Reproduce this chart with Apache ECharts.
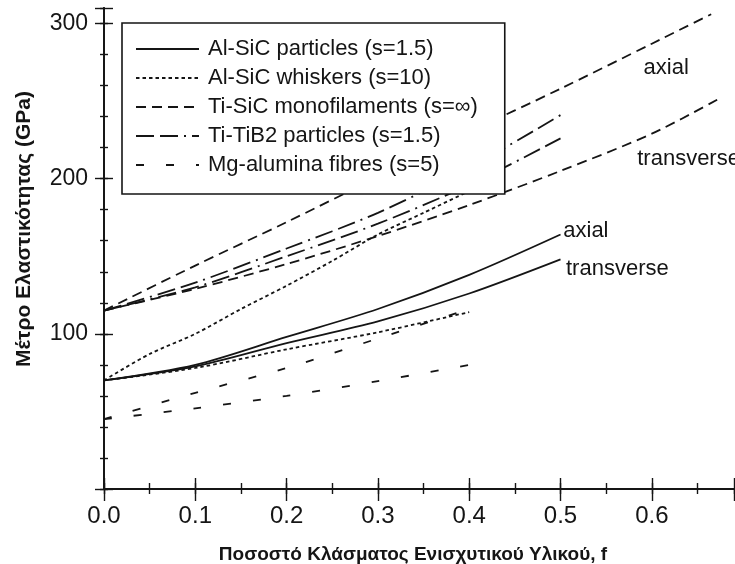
<!DOCTYPE html>
<html>
<head>
<meta charset="utf-8">
<script src="https://cdn.jsdelivr.net/npm/echarts@6/dist/echarts.min.js"></script>
<style>
html,body{margin:0;padding:0;background:#fff;}
#chart{width:735px;height:564px;}
</style>
</head>
<body>
<div id="chart"></div>
<script>
// ---- data (volume fraction f, Young's modulus E in GPa) ----
const legendNames = [
  'Al-SiC particles (s=1.5)',
  'Al-SiC whiskers (s=10)',
  'Ti-SiC monofilaments (s=\u221e)',
  'Ti-TiB2 particles (s=1.5)',
  'Mg-alumina fibres (s=5)'
];
const fAlSiCp = [0, 0.1, 0.2, 0.3, 0.4, 0.5];
const eAlSiCpAxial = [70, 80, 98, 116, 138, 164];
const eAlSiCpTrans = [70, 79, 94, 108, 126, 148];

const fAlSiCwAxial = [0, 0.05, 0.1, 0.15, 0.2, 0.25, 0.3, 0.35, 0.4];
const eAlSiCwAxial = [70, 87, 100, 116, 131, 147, 164, 178, 192];
const fAlSiCwTrans = [0, 0.1, 0.2, 0.3, 0.4];
const eAlSiCwTrans = [70, 78, 90, 101, 114];

const fTiSiCAxial = [0, 0.1, 0.2, 0.3, 0.4, 0.5, 0.6, 0.665];
const eTiSiCAxial = [115, 144, 172, 201, 230, 258, 287, 306];
const fTiSiCTrans = [0, 0.1, 0.2, 0.3, 0.4, 0.5, 0.6, 0.675];
const eTiSiCTrans = [115, 129, 145, 163, 183, 205, 229, 252];

const fTiTiB2 = [0, 0.1, 0.2, 0.3, 0.4, 0.5];
const eTiTiB2Axial = [115, 133, 155, 178, 207, 241];
const eTiTiB2Trans = [115, 130, 150, 171, 196, 226];

const fMg = [0, 0.1, 0.2, 0.3, 0.4];
const eMgAxial = [45, 62, 78, 97, 116];
const eMgTrans = [45, 52, 60, 69.5, 80];

const xTickLabels = ['0.0','0.1','0.2','0.3','0.4','0.5','0.6'];
const yTickLabels = ['100','200','300'];

// annotation anchors [f, E]
const annTiAxial = [0.591, 271.5];
const annTiTrans = [0.584, 212.6];
const annAlAxial = [0.503, 166];
const annAlTrans = [0.506, 142];

// ---- build ----
const pair = (xs, ys) => xs.map((x, i) => [x, ys[i]]);
const INK = '#151515';
const FONT = 'Liberation Sans, Arial, sans-serif';

function ann(coord, text) {
  return {
    symbol: 'circle', symbolSize: 0,
    data: [{ coord: coord, symbolSize: 0,
      label: { show: true, position: 'right', distance: 0, formatter: text,
               color: INK, fontSize: 22, fontFamily: FONT } }]
  };
}

function line(name, data, dash, extra) {
  return Object.assign({
    type: 'line', name: name, data: data,
    symbol: 'none', smooth: 0.3,
    xAxisIndex: 0, yAxisIndex: 0,
    lineStyle: { color: INK, width: 1.8, type: dash },
    itemStyle: { color: INK },
    z: 2, silent: true, animation: false
  }, extra || {});
}

const solid = 'solid';
const dotted = [3.5, 3];
const shortDash = [10, 6];
const longDashDot = [18, 6, 18, 6, 2, 6];
const sparseDash = [8, 22];

const series = [
  line(legendNames[0], pair(fAlSiCp, eAlSiCpAxial), solid, { markPoint: ann(annAlAxial, 'axial') }),
  line(legendNames[0], pair(fAlSiCp, eAlSiCpTrans), solid, { markPoint: ann(annAlTrans, 'transverse') }),
  line(legendNames[1], pair(fAlSiCwAxial, eAlSiCwAxial), dotted),
  line(legendNames[1], pair(fAlSiCwTrans, eAlSiCwTrans), dotted),
  line(legendNames[2], pair(fTiSiCAxial, eTiSiCAxial), shortDash, { markPoint: ann(annTiAxial, 'axial') }),
  line(legendNames[2], pair(fTiSiCTrans, eTiSiCTrans), shortDash, { markPoint: ann(annTiTrans, 'transverse') }),
  line(legendNames[3], pair(fTiTiB2, eTiTiB2Axial), longDashDot),
  line(legendNames[3], pair(fTiTiB2, eTiTiB2Trans), longDashDot),
  line(legendNames[4], pair(fMg, eMgAxial), sparseDash),
  line(legendNames[4], pair(fMg, eMgTrans), sparseDash)
];

const XMIN = 0, XMAX = 0.69, YMIN = 0, YMAX = 310;
const axisLine = { show: true, lineStyle: { color: INK, width: 1.8 } };

function xFmt(v) {
  const r = v * 10;
  const k = Math.round(r);
  if (Math.abs(r - k) > 1e-6) return '';
  const s = (k / 10).toFixed(1);
  return xTickLabels.indexOf(s) >= 0 ? s : '';
}
function yFmt(v) {
  const s = String(Math.round(v));
  return (Math.abs(v - Math.round(v)) < 1e-6 && yTickLabels.indexOf(s) >= 0) ? s : '';
}

function xAx(pos, interval, len, labels) {
  return {
    type: 'value', position: pos, min: XMIN, max: XMAX, interval: interval,
    axisLine: labels !== null ? axisLine : { show: false },
    axisTick: { show: true, inside: true, length: len, lineStyle: { color: INK, width: 1.4 } },
    axisLabel: labels ? { show: true, formatter: xFmt, margin: 15, color: INK, fontSize: 24, fontFamily: FONT, showMaxLabel: false } : { show: false },
    splitLine: { show: false },
    name: labels ? 'Ποσοστό Κλάσματος Ενισχυτικού Υλικού, f' : '',
    nameLocation: 'middle', nameGap: 56,
    nameTextStyle: { fontSize: 19, fontWeight: 'bold', color: INK, fontFamily: FONT, padding: [0, 12, 0, 0] }
  };
}
function yAx(pos, interval, len, labels) {
  return {
    type: 'value', position: pos, min: YMIN, max: YMAX, interval: interval,
    axisLine: labels !== null ? axisLine : { show: false },
    axisTick: { show: true, inside: true, length: len, lineStyle: { color: INK, width: 1.4 } },
    axisLabel: labels ? { show: true, formatter: yFmt, margin: 16, color: INK, fontSize: 23, fontFamily: FONT, showMaxLabel: false } : { show: false },
    splitLine: { show: false }
  };
}

const option = {
  backgroundColor: '#ffffff',
  animation: false,
  grid: { left: 104, right: 1, top: 8, bottom: 75, containLabel: false, outerBoundsMode: 'none' },
  xAxis: [
    xAx('bottom', 0.05, 6, true),
    xAx('bottom', 0.1, 11, null),
    xAx('top', 0.05, 5, false),
    xAx('top', 0.1, 12, null)
  ],
  yAxis: [
    yAx('left', 20, 4, true),
    yAx('left', 100, 9, null),
    yAx('right', 20, 4, false),
    yAx('right', 100, 9, null)
  ],
  legend: {
    data: legendNames,
    orient: 'vertical', left: 122, top: 23,
    padding: [15, 27, 18, 13], itemGap: 7,
    itemWidth: 63, itemHeight: 14,
    selectedMode: false,
    itemStyle: { color: 'rgba(0,0,0,0)', borderWidth: 0, opacity: 0 },
    backgroundColor: '#ffffff', borderColor: INK, borderWidth: 1.6,
    textStyle: { fontSize: 22, lineHeight: 22, color: INK, fontFamily: FONT, padding: [0, 0, 0, 4] },
    z: 10
  },
  graphic: [{
    type: 'text', x: 24, y: 229, rotation: Math.PI / 2, z: 10,
    style: { text: 'Μέτρο Ελαστικότητας (GPa)', fontSize: 21, fontWeight: 'bold',
             fontFamily: FONT, fill: INK, textAlign: 'center', textVerticalAlign: 'middle' }
  }],
  series: series
};

const chart = echarts.init(document.getElementById('chart'), null, { renderer: 'canvas' });
chart.setOption(option);
</script>
</body>
</html>
